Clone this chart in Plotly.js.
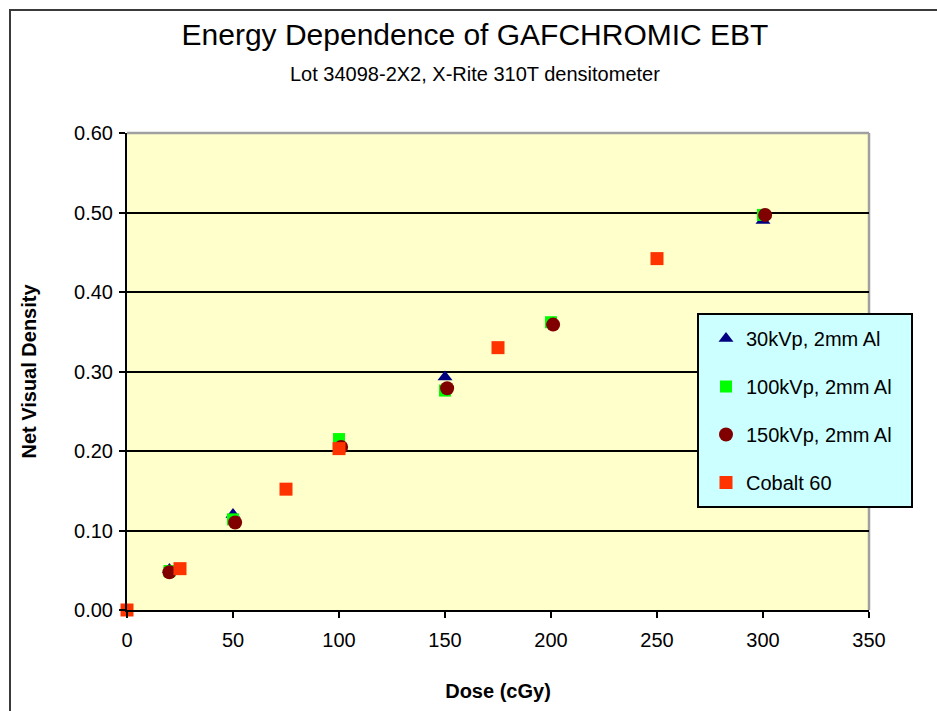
<!DOCTYPE html>
<html>
<head>
<meta charset="utf-8">
<script src="https://cdn.plot.ly/plotly-3.0.1.min.js"></script>
<style>
  html, body { margin: 0; padding: 0; background: #ffffff; }
  #wrap { position: relative; width: 937px; height: 711px; overflow: hidden; }
  #chart { width: 937px; height: 711px; }
  #frame { position: absolute; left: 9px; top: 9px; width: 1000px; height: 800px;
           border-left: 2px solid #3a3a3a; border-top: 2px solid #3a3a3a; pointer-events: none; }
</style>
</head>
<body>
<div id="wrap">
  <div id="chart"></div>
  <div id="frame"></div>
</div>
<script>
// ---- data ----
const seriesNames = ["30kVp, 2mm Al", "100kVp, 2mm Al", "150kVp, 2mm Al", "Cobalt 60"];

const dose30kVp = [20, 50, 150, 300];
const dens30kVp = [0.051, 0.120, 0.293, 0.490];

const dose100kVp = [20, 50, 100, 150, 200, 300];
const dens100kVp = [0.049, 0.114, 0.215, 0.276, 0.362, 0.497];

const dose150kVp = [20, 51, 101, 151, 201, 301];
const dens150kVp = [0.0475, 0.110, 0.205, 0.279, 0.359, 0.497];

const doseCo60 = [0, 25, 75, 100, 175, 250];
const densCo60 = [0.000, 0.052, 0.152, 0.203, 0.330, 0.442];

const xTicks = [0, 50, 100, 150, 200, 250, 300, 350];
const yTicks = [0.0, 0.1, 0.2, 0.3, 0.4, 0.5, 0.6];

const titleText = "Energy Dependence of GAFCHROMIC EBT";
const subtitleText = "Lot 34098-2X2, X-Rite 310T densitometer";
const xTitle = "Dose (cGy)";
const yTitle = "Net Visual Density";

// ---- chart ----
const FONT = "Liberation Sans, Arial, sans-serif";
const PL = 127, PR = 869, PT = 133, PB = 610;   // plot area in px
const PW = PR - PL, PH = PB - PT;
const px2x = p => (p - PL) / PW;
const px2y = p => (PB - p) / PH;

const traces = [
  { x: dose30kVp, y: dens30kVp, name: seriesNames[0], legendgroup: "a",
    type: "scatter", mode: "markers", cliponaxis: false,
    marker: { symbol: "triangle-up", color: "#000080", size: 13 } },
  { x: dose100kVp, y: dens100kVp, name: seriesNames[1], legendgroup: "b",
    type: "scatter", mode: "markers", cliponaxis: false,
    marker: { symbol: "square", color: "#00FF00", size: 12 } },
  { x: dose150kVp, y: dens150kVp, name: seriesNames[2], legendgroup: "c",
    type: "scatter", mode: "markers", cliponaxis: false,
    marker: { symbol: "circle", color: "#800000", size: 14 } },
  { x: doseCo60, y: densCo60, name: seriesNames[3], legendgroup: "d",
    type: "scatter", mode: "markers", cliponaxis: false,
    marker: { symbol: "square", color: "#FF3300", size: 13 } }
];

const layout = {
  width: 937, height: 711,
  margin: { l: PL, r: 937 - PR, t: PT, b: 711 - PB, pad: 0 },
  paper_bgcolor: "#ffffff",
  plot_bgcolor: "#FFFFCC",
  font: { family: FONT, size: 20, color: "#000000" },
  title: {
    text: titleText,
    font: { family: FONT, size: 30, color: "#000000" },
    x: 475 / 937, xref: "container", xanchor: "center",
    y: 1 - 34 / 711, yref: "container", yanchor: "middle"
  },
  annotations: [{
    text: subtitleText, showarrow: false,
    xref: "paper", yref: "paper",
    x: px2x(475), y: px2y(74),
    xanchor: "center", yanchor: "middle",
    font: { family: FONT, size: 20, color: "#000000" }
  }],
  xaxis: {
    range: [0, 350],
    tickvals: xTicks,
    ticktext: xTicks.map(v => String(v)),
    ticks: "outside", ticklen: 6, tickwidth: 2, tickcolor: "#000000",
    ticklabelstandoff: 5,
    showline: true, linecolor: "#000000", linewidth: 2,
    showgrid: false, zeroline: false,
    tickfont: { family: FONT, size: 20, color: "#000000" },
    title: { text: "<b>" + xTitle + "</b>", standoff: 34,
             font: { family: FONT, size: 20, color: "#000000" } }
  },
  yaxis: {
    range: [0, 0.6],
    tickvals: yTicks,
    ticktext: yTicks.map(v => v.toFixed(2)),
    ticks: "outside", ticklen: 6, tickwidth: 2, tickcolor: "#000000",
    ticklabelstandoff: 2,
    showline: true, linecolor: "#000000", linewidth: 2,
    showgrid: true, gridcolor: "#000000", gridwidth: 2,
    zeroline: false,
    tickfont: { family: FONT, size: 20, color: "#000000" },
    title: { text: "<b>" + yTitle + "</b>", standoff: 32,
             font: { family: FONT, size: 20, color: "#000000" } }
  },
  shapes: [
    { type: "line", xref: "paper", yref: "paper", x0: 0, x1: 1, y0: 1, y1: 1,
      line: { color: "#A0A0A0", width: 2.5 }, layer: "above" },
    { type: "line", xref: "paper", yref: "paper", x0: 1, x1: 1, y0: 0, y1: 1,
      line: { color: "#A0A0A0", width: 2.5 }, layer: "below" },
    // legend box (background + border)
    { type: "rect", xref: "paper", yref: "paper",
      x0: px2x(698), x1: px2x(912), y0: px2y(507), y1: px2y(314),
      fillcolor: "#CCFFFF", line: { color: "#000000", width: 2 }, layer: "above" }
  ],
  showlegend: true,
  legend: {
    x: px2x(706), y: px2y(319),
    xanchor: "left", yanchor: "top",
    bgcolor: "rgba(0,0,0,0)", borderwidth: 0,
    font: { family: FONT, size: 20, color: "#000000" },
    tracegroupgap: 19,
    traceorder: "grouped"
  }
};

Plotly.newPlot("chart", traces, layout, { displayModeBar: false, staticPlot: true });
</script>
</body>
</html>
